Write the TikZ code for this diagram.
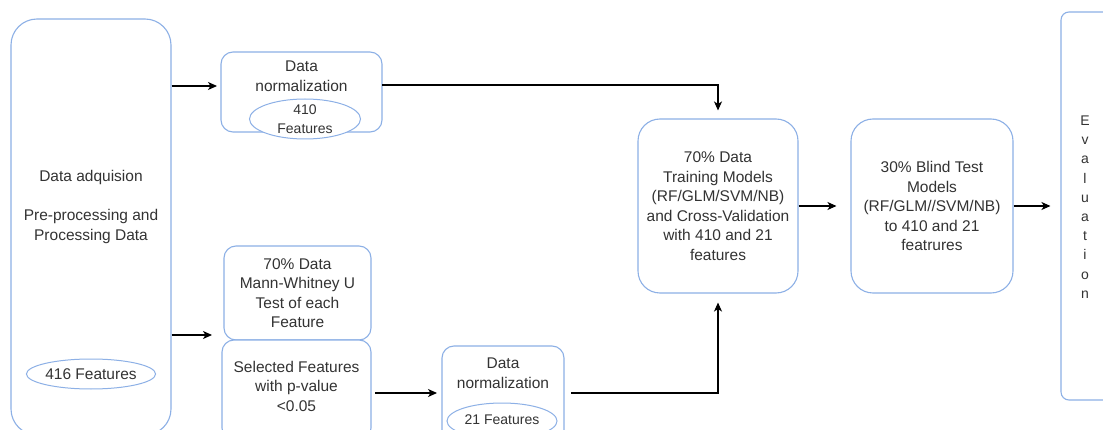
\documentclass[tikz,border=0pt]{standalone}
\usepackage{fontspec}
\setmainfont{Liberation Sans}
\usetikzlibrary{arrows.meta,shapes.geometric}
\definecolor{bord}{HTML}{8DB0E6}
\definecolor{txt}{HTML}{333333}
\tikzset{
  box/.style={draw=bord, line width=1.1pt, rounded corners=12pt, fill=white, inner sep=0pt},
  bigbox/.style={box, rounded corners=26pt},
  oval/.style={ellipse, draw=bord, line width=1pt, fill=white, inner sep=0pt},
  lbl/.style={text=txt, align=center, font=\fontsize{15.5}{19.5}\selectfont, inner sep=0pt},
  arr/.style={draw=black, line width=1.2pt, -{Stealth[length=9pt,width=8pt,inset=2.5pt]}},
}
\begin{document}
\begin{tikzpicture}[x=1pt,y=-1pt]
\useasboundingbox (0,0) rectangle (1103,430);
\clip (0,0) rectangle (1103,430);
\fill[white] (0,0) rectangle (1103,430);

% left big box
\node[bigbox, minimum width=160pt, minimum height=416pt] (lb) at (91,227) {};
\node[lbl] (lbt) at (91,207) {Data adquision\\[19.5pt]Pre-processing and\\Processing Data};
\node[oval, minimum width=111pt, minimum height=30pt, lbl, draw=bord, fill=white] (e416) at (91,374) {416 Features};

% data normalization (410)
\node[box, minimum width=161pt, minimum height=80pt] (dn1) at (301.5,92) {};
\node[lbl] (dn1t) at (301.5,76) {Data\\normalization};
\node[oval, minimum width=111pt, minimum height=40pt] (e410) at (305,119) {};
\node[lbl, font=\fontsize{14}{19}\selectfont] (e410t) at (305,119) {410\\Features};

% Mann-Whitney
\node[box, lbl, draw=bord, minimum width=147pt, minimum height=94pt] (mw) at (297.5,293) {70\% Data\\Mann-Whitney U\\Test of each\\Feature};
% selected features
\node[box, minimum width=149pt, minimum height=100pt] (sel) at (296.5,390) {};
\node[lbl] (selt) at (296.5,386) {Selected Features\\with p-value\\{<}0.05};

% data normalization (21)
\node[box, minimum width=122pt, minimum height=100pt] (dn2) at (503,396) {};
\node[lbl] (dn2t) at (503,373) {Data\\normalization};
\node[oval, minimum width=110pt, minimum height=36pt] (e21) at (502,421) {};
\node[lbl, font=\fontsize{14}{19}\selectfont] (e21t) at (502,420) {21 Features};

% training
\node[box, lbl, draw=bord, minimum width=160pt, minimum height=174pt, rounded corners=22pt] (tr) at (718,206) {70\% Data\\Training Models\\(RF/GLM/SVM/NB)\\and Cross-Validation\\with 410 and 21\\features};
% blind test
\node[box, lbl, draw=bord, minimum width=162pt, minimum height=174pt, rounded corners=22pt] (bl) at (932,206) {30\% Blind Test\\Models\\(RF/GLM//SVM/NB)\\to 410 and 21\\featrures};
% evaluation
\node[box, minimum width=64pt, minimum height=388pt, rounded corners=8pt] (ev) at (1093,206) {};
\node[lbl, font=\fontsize{14}{19.2}\selectfont] (evt) at (1085,207) {E\\v\\a\\l\\u\\a\\t\\i\\o\\n};

% connectors
\coordinate (a1) at (217,86);
\coordinate (a2) at (212,335);
\coordinate (a3) at (437,393);
\coordinate (s3) at (375,393);
\coordinate (s4) at (571,393);
\coordinate (s1) at (382,85);
\draw[arr] (lb.east |- a1) -- (a1);
\draw[arr] (lb.east |- a2) -- (a2);
\draw[arr] (s1) -| ([yshift=8pt]tr.north);
\draw[arr] (s3) -- (a3);
\draw[arr] (s4) -| ([yshift=-9pt]tr.south);
\draw[arr] (tr.east) -- ([xshift=-14pt]bl.west);
\draw[arr] (bl.east) -- ([xshift=-10pt]ev.west);
\end{tikzpicture}
\end{document}
